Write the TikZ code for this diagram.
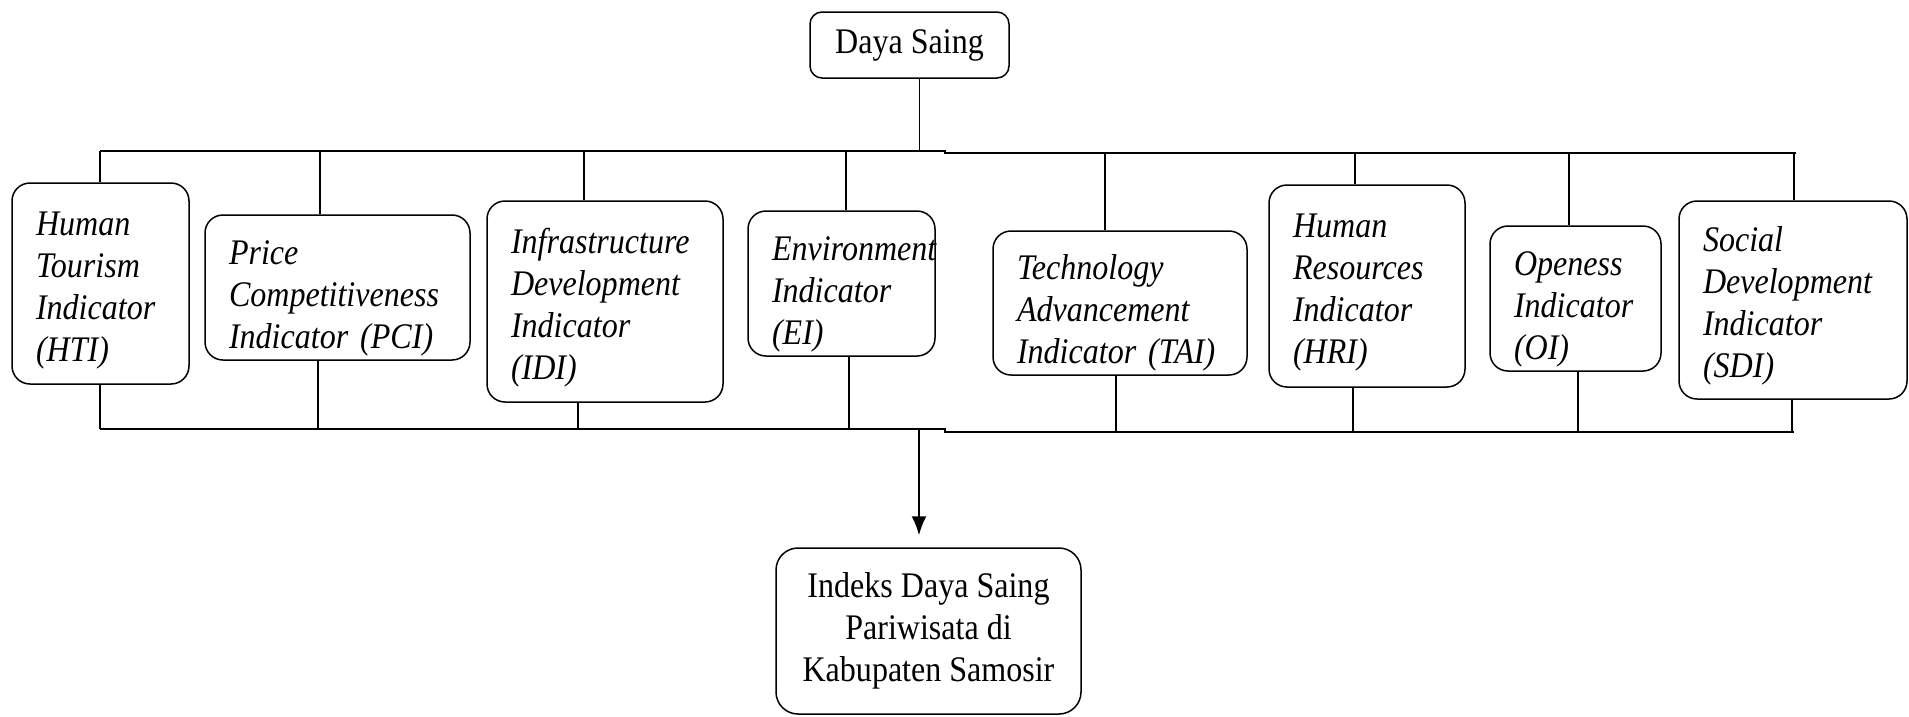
\documentclass[tikz,border=0pt]{standalone}
\usepackage{fontspec}
\setmainfont{Liberation Serif}[FakeStretch=0.89]
\usetikzlibrary{arrows.meta}

\begin{document}
\begin{tikzpicture}[x=1pt, y=-1pt,
    indbox/.style={draw, line width=1.5pt, rounded corners=18pt, align=left,
      inner xsep=24pt, inner ysep=0pt, font=\fontsize{36}{42}\selectfont\itshape},
    textdown/.style={execute at begin node={\rule{0pt}{#1}}},
    headbox/.style={draw, line width=1.5pt, rounded corners=12pt, align=center,
      inner sep=0pt, font=\fontsize{36}{42}\selectfont},
    bus/.style={line width=2pt},
    link/.style={line width=1.3pt}]
  \useasboundingbox (0,0) rectangle (1909,716);

  \node[headbox, minimum width=199pt, minimum height=66pt] (daya) at (909.5,45) {Daya Saing};

  \node[indbox, textdown=37pt, text width=129pt, minimum width=177pt, minimum height=201pt] (hti) at (100.5,283.5)
    {Human\\Tourism\\Indicator\\(HTI)};
  \node[indbox, textdown=45pt, text width=217pt, minimum width=265pt, minimum height=145pt] (pci) at (337.5,287.5)
    {Price\\Competitiveness\\Indicator (PCI)};
  \node[indbox, textdown=37pt, text width=188pt, minimum width=236pt, minimum height=201pt] (idi) at (605,301.5)
    {Infrastructure\\Development\\Indicator\\(IDI)};
  \node[indbox, textdown=45pt, text width=139pt, minimum width=187pt, minimum height=145pt] (ei) at (841.5,283.5)
    {Environment\\Indicator\\(EI)};
  \node[indbox, textdown=45pt, text width=206pt, minimum width=254pt, minimum height=144pt] (tai) at (1120,303)
    {Technology\\Advancement\\Indicator (TAI)};
  \node[indbox, textdown=37pt, text width=148pt, minimum width=196pt, minimum height=202pt] (hri) at (1367,286)
    {Human\\Resources\\Indicator\\(HRI)};
  \node[indbox, textdown=45pt, text width=123pt, minimum width=171pt, minimum height=145pt] (oi) at (1575.5,298.5)
    {Openess\\Indicator\\(OI)};
  \node[indbox, textdown=37pt, text width=180pt, minimum width=228pt, minimum height=198pt] (sdi) at (1793,300)
    {Social\\Development\\Indicator\\(SDI)};

  \node[headbox, rounded corners=22pt, minimum width=305pt, minimum height=166pt] (idx) at (928.5,631)
    {Indeks Daya Saing\\Pariwisata di\\Kabupaten Samosir};

  % bus lines
  \coordinate (tl) at (100,151);
  \coordinate (tm) at (945,151);
  \coordinate (tr) at (1796,153);
  \coordinate (bl) at (100,429);
  \coordinate (bm) at (945,429);
  \coordinate (br) at (1794,432);
  \draw[bus] (tl) -- (tm) |- (tr);
  \draw[bus] (bl) -- (bm) |- (br);

  \draw[link] ([xshift=10pt]daya.south) -- ([xshift=10pt]daya.south |- tl);
  \foreach \n/\a/\b/\t/\u in {hti/-0.5/-0.5/tl/bl, pci/-17.5/-19.5/tl/bl, idi/-21/-27/tl/bl,
      ei/4.5/7.5/tl/bl, tai/-15/-4/tr/br, hri/-12/-14/tr/br, oi/-6.5/2.5/tr/br, sdi/1/-1/tr/br}
  {
    \draw[link] ([xshift=\a pt]\n.north) -- ([xshift=\a pt]\n.north |- \t);
    \draw[link] ([xshift=\b pt]\n.south) -- ([xshift=\b pt]\n.south |- \u);
  }

  \draw[bus, -{Latex[length=19pt, width=15pt]}] ([xshift=-9.5pt]idx.north |- bl) -- ([xshift=-9.5pt, yshift=12pt]idx.north);
\end{tikzpicture}
\end{document}
